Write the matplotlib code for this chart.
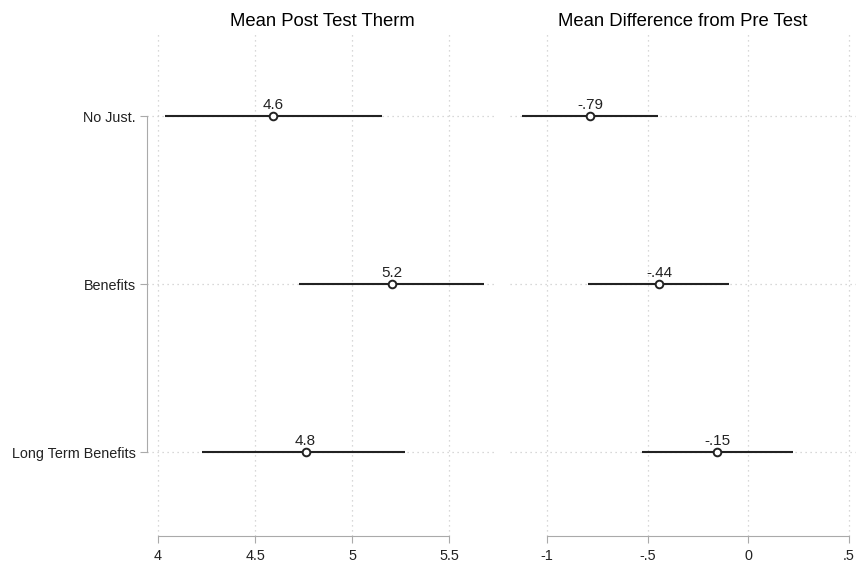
import numpy as np
import matplotlib
matplotlib.use('Agg')
import matplotlib.pyplot as plt

plt.rcParams['font.family'] = ['Liberation Sans', 'DejaVu Sans']

# Dữ liệu
categories = ['No Just.', 'Benefits', 'Long Term Benefits']
post_mean = [4.593, 5.206, 4.76]
post_lo = [4.036, 4.727, 4.227]
post_hi = [5.155, 5.68, 5.273]
post_labels = ['4.6', '5.2', '4.8']

diff_mean = [-0.786, -0.443, -0.154]
diff_lo = [-1.124, -0.796, -0.527]
diff_hi = [-0.448, -0.095, 0.224]
diff_labels = ['-.79', '-.44', '-.15']

titles = ['Mean Post Test Therm', 'Mean Difference from Pre Test']
post_ticks = [4, 4.5, 5, 5.5]
post_ticklabels = ['4', '4.5', '5', '5.5']
diff_ticks = [-1, -0.5, 0, 0.5]
diff_ticklabels = ['-1', '-.5', '0', '.5']

W, H = 856, 567
fig = plt.figure(figsize=(W / 100, H / 100), dpi=100)

def px_axes(x0, x1, y0, y1):
    return fig.add_axes([x0 / W, 1 - y1 / H, (x1 - x0) / W, (y1 - y0) / H])

ax1 = px_axes(147, 497, 34, 536)
ax2 = px_axes(510, 856, 34, 536)

ypos = np.arange(1, len(categories) + 1)
grid_kw = dict(color='#cccccc', linestyle=(0, (1, 3)), linewidth=0.9)

panels = [
    (ax1, post_mean, post_lo, post_hi, post_labels, post_ticks, post_ticklabels, (3.943, 5.747)),
    (ax2, diff_mean, diff_lo, diff_hi, diff_labels, diff_ticks, diff_ticklabels, (-1.184, 0.537)),
]

for i, (ax, m, lo, hi, labs, ticks, tlabs, xlim) in enumerate(panels):
    for t in ticks:
        ax.axvline(t, zorder=0, **grid_kw)
    for y in ypos:
        ax.axhline(y, zorder=0, **grid_kw)
    ax.hlines(ypos, lo, hi, color='#222222', linewidth=1.5, zorder=2)
    ax.plot(m, ypos, 'o', markersize=5.5, markerfacecolor='white',
            markeredgecolor='#222222', markeredgewidth=1.4, zorder=3)
    for x, y, s in zip(m, ypos, labs):
        ax.text(x, y - 0.025, s, ha='center', va='bottom', fontsize=11, color='#222222')
    ax.set_xlim(*xlim)
    ax.set_ylim(3.5, 0.51)
    ax.set_xticks(ticks)
    ax.set_xticklabels(tlabs, fontsize=10.4)
    ax.set_title(titles[i], fontsize=13.3, pad=6)
    for s in ['top', 'right']:
        ax.spines[s].set_visible(False)
    ax.spines['bottom'].set_bounds(ticks[0], ticks[-1])
    ax.spines['bottom'].set_color('#aaaaaa')
    ax.tick_params(axis='x', colors='#aaaaaa', labelcolor='#222222', length=5, pad=4)
    if i == 0:
        ax.set_yticks(ypos)
        ax.set_yticklabels(categories, fontsize=10.4)
        ax.spines['left'].set_bounds(1, 3)
        ax.spines['left'].set_color('#aaaaaa')
        ax.tick_params(axis='y', colors='#aaaaaa', labelcolor='#222222', length=5, pad=3)
    else:
        ax.spines['left'].set_visible(False)
        ax.set_yticks([])

fig.savefig('out.png', dpi=100, facecolor='white')
